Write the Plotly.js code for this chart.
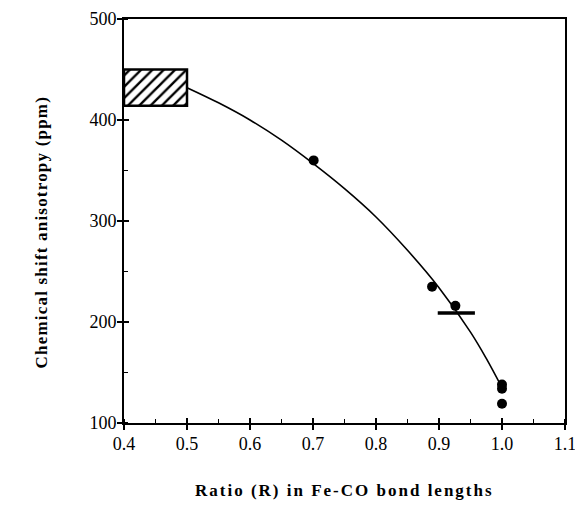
<!DOCTYPE html>
<html>
<head>
<meta charset="utf-8">
<script src="https://cdn.plot.ly/plotly-3.0.1.min.js"></script>
<style>
html,body{margin:0;padding:0;background:#fff;}
#chart{width:575px;height:505px;}
</style>
</head>
<body>
<div id="chart"></div>
<script>
// Measured data points
var ratioX = [0.701, 0.889, 0.926, 1.0, 1.0, 1.0];
var csaY = [360, 235, 216, 138, 134, 119];

// Fitted curve
var curveX = [0.5, 0.55, 0.6, 0.65, 0.7, 0.75, 0.8, 0.85, 0.9, 0.95, 0.975, 1.0];
var curveY = [432, 417, 400, 380, 357, 332, 304, 271, 234, 190, 164, 135];

// Hatched range box (R 0.4–0.5, CSA 414–450)
var boxX = [0.45];
var boxBase = [414];
var boxHeight = [36];
var boxWidth = [0.1];

// Horizontal bar marker
var hbarX = [0.898, 0.957];
var hbarY = [209, 209];

var xTicks = [0.4, 0.5, 0.6, 0.7, 0.8, 0.9, 1.0, 1.1];
var yTicks = [100, 200, 300, 400, 500];
var xTitle = 'Ratio (R) in Fe-CO bond lengths';
var yTitle = 'Chemical shift anisotropy (ppm)';

var serif = "Liberation Serif, Times New Roman, serif";

var traces = [
  {
    type: 'bar', x: boxX, y: boxHeight, base: boxBase, width: boxWidth,
    marker: {color: 'white', line: {color: 'black', width: 2.5},
      pattern: {shape: '/', fgcolor: 'black', bgcolor: 'white', size: 8, solidity: 0.3}},
    hoverinfo: 'skip', showlegend: false
  },
  {
    type: 'scatter', mode: 'lines', x: curveX, y: curveY,
    line: {color: 'black', width: 1.6, shape: 'spline', smoothing: 1},
    showlegend: false
  },
  {
    type: 'scatter', mode: 'lines', x: hbarX, y: hbarY, xaxis: 'x2', yaxis: 'y2',
    line: {color: 'black', width: 3.5}, showlegend: false
  },
  {
    type: 'scatter', mode: 'markers', x: ratioX, y: csaY,
    marker: {color: 'black', size: 10, symbol: 'circle'}, showlegend: false
  }
];

var axBase = {
  showgrid: false, zeroline: false, tickcolor: 'black', tickwidth: 1.5
};

var layout = {
  width: 575, height: 505,
  margin: {l: 124, r: 10, t: 19, b: 82},
  paper_bgcolor: 'white', plot_bgcolor: 'white',
  font: {family: serif, color: 'black', size: 18},
  xaxis: Object.assign({}, axBase, {
    range: [0.4, 1.1], tickvals: xTicks, ticktext: xTicks.map(function(v){return v.toFixed(1);}),
    ticks: 'outside', ticklen: 5, ticklabeloverflow: 'allow', ticklabelstandoff: -2,
    showline: true, linecolor: 'black', linewidth: 2, mirror: true,
    minor: {ticks: 'inside', dtick: 0.05, ticklen: 4, tickcolor: 'black', showgrid: false},
    tickfont: {family: serif, size: 18, color: 'black'}
  }),
  yaxis: Object.assign({}, axBase, {
    range: [100, 500], tickvals: yTicks,
    ticks: 'outside', ticklen: 5, ticklabeloverflow: 'allow', ticklabelstandoff: -3,
    showline: true, linecolor: 'black', linewidth: 2, mirror: true,
    minor: {ticks: 'inside', dtick: 50, ticklen: 4, tickcolor: 'black', showgrid: false},
    tickfont: {family: serif, size: 18, color: 'black'}
  }),
  xaxis2: Object.assign({}, axBase, {
    range: [0.4, 1.1], overlaying: 'x', tickvals: xTicks, ticks: 'inside', ticklen: 5,
    showticklabels: false, showline: false
  }),
  yaxis2: Object.assign({}, axBase, {
    range: [100, 500], overlaying: 'y', tickvals: yTicks, ticks: 'inside', ticklen: 5,
    showticklabels: false, showline: false
  }),
  annotations: [
    {text: '<b>' + xTitle + '</b>', xref: 'paper', yref: 'paper', x: 0.5, y: -0.168,
     xanchor: 'center', yanchor: 'middle', showarrow: false,
     font: {family: serif, size: 17}},
    {text: '<b>' + yTitle + '</b>', xref: 'paper', yref: 'paper', x: -0.186, y: 0.473,
     xanchor: 'center', yanchor: 'middle', showarrow: false, textangle: -90,
     font: {family: serif, size: 17}}
  ],
  bargap: 0
};

Plotly.newPlot('chart', traces, layout, {displayModeBar: false, staticPlot: true}).then(function(){
  var anns = document.querySelectorAll('.annotation-text');
  anns.forEach(function(t, i){ t.style.letterSpacing = (i === 0 ? '2px' : '1.2px'); });
});
</script>
</body>
</html>
